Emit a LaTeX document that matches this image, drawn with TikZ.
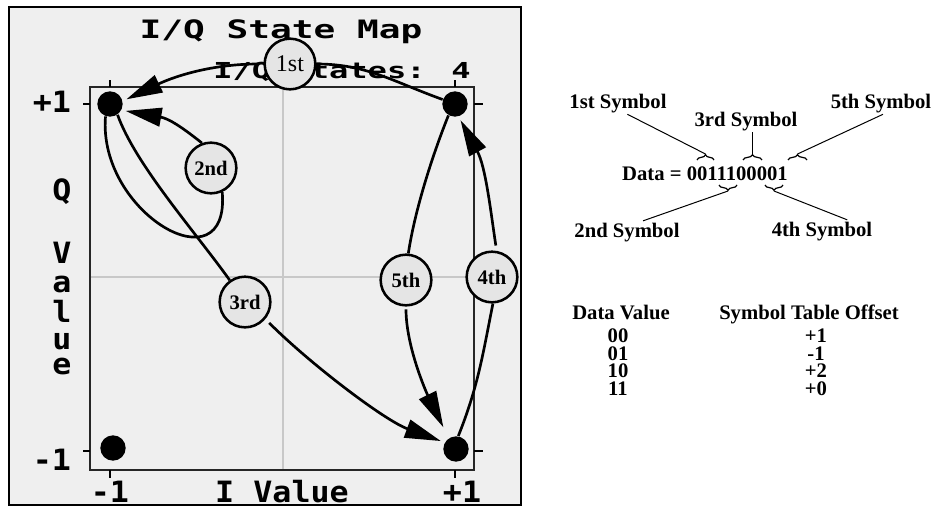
\documentclass[tikz,border=0pt]{standalone}
\usepackage{fontspec}
\setmainfont{Liberation Serif}
\newfontfamily\pixfont{DejaVu Sans Mono}
\usetikzlibrary{arrows.meta,decorations.pathreplacing}

\definecolor{panelgray}{RGB}{239,239,239}
\definecolor{symgray}{RGB}{229,229,229}
\definecolor{gridgray}{RGB}{200,200,200}

\tikzset{every picture/.style={line width=0.75pt}}
\tikzset{
state/.style={circle, fill=black, inner sep=0pt, minimum size=19pt},
symb/.style={circle, draw, line width=1.9pt, fill=symgray, inner sep=0pt, minimum size=38pt, font=\fontsize{15.5}{18}\selectfont\bfseries},
flow/.style={line width=2pt, -{Triangle[length=27pt,width=14pt]}, shorten >=3pt},
pix/.style={font=\fontsize{22}{24}\pixfont\bfseries, inner sep=0pt, anchor=base, xscale=1.08},
note/.style={font=\fontsize{15.5}{18}\selectfont\bfseries, inner sep=1pt, anchor=base},
brc/.style={decorate, decoration={brace, amplitude=4pt}, line width=0.9pt}}

\begin{document}
\begin{tikzpicture}[x=0.75pt,y=0.75pt,yscale=-1,xscale=1]
\useasboundingbox (0,0) rectangle (936,508);

%Panel and plot box
\draw [line width=1.5pt, fill=panelgray] (9,7) rectangle (521,505);
\draw [gridgray, line width=1.5pt] (283,87) -- (283,470) (90,277) -- (474,277);
\draw [black!85, line width=1.5pt] (90,87) rectangle (474,470);
\foreach \t in {110,455} {
  \draw [line width=1.5pt] (\t,80) -- (\t,87) (\t,470) -- (\t,478);
}
\foreach \t in {104,451} {
  \draw [line width=1.5pt] (83,\t) -- (90,\t) (474,\t) -- (483,\t);
}

% Screen texts
\node [pix, font=\fontsize{19}{20}\pixfont\bfseries, xscale=1.32] (title) at (281,38) {I/Q State Map};
\node [pix, font=\fontsize{16.5}{18}\pixfont\bfseries, xscale=1.35] (states) at (342,78) {I/Q States: 4};
\node [pix] (qtop) at (52,112) {+1};
\node [pix] (qbot) at (52,470) {-1};
\node [pix] (ileft) at (110,502) {-1};
\node [pix] (iright) at (462,502) {+1};
\node [pix] (ilabel) at (282,502) {I Value};
\foreach \ch/\y [count=\i] in {Q/200, V/263, a/292, l/322, u/349, e/374}
  \node [pix] (q\i) at (62,\y) {\ch};

% States
\node [state] (mp) at (110,104) {};
\node [state] (pp) at (455,104) {};
\node [state] (mm) at (113,448) {};
\node [state] (pm) at (456,449) {};

% Symbols
\node [symb, font=\fontsize{18}{20}\selectfont] (c1) at (290,64) {1st};
\node [symb] (c2) at (211,168) {2nd};
\node [symb] (c3) at (245,302) {3rd};
\node [symb] (c4) at (492,277) {4th};
\node [symb] (c5) at (406,280) {5th};

% Transitions
\draw [flow, shorten <=4pt] (pp.160) .. controls +(-50,-18) and +(50,0) .. (c1.east) (c1.west) .. controls +(-55,0) and +(48,-23) .. (mp.13);
\draw [flow] (mp.-110) .. controls +(-8,97) and +(8,97) .. (c2.-65) (c2.110) .. controls +(-25,-20) and +(45,8) .. (mp.-28);
\draw [flow, shorten <=4pt] (mp.-55) .. controls +(18,50) and +(-35,-49) .. (c3.125) (c3.-40) .. controls +(45,45) and +(-60,-22) .. (pm.150);
\draw [flow, shorten <=4pt] (pm.80) .. controls +(20,-50) and +(-10,50) .. (c4.-88) (c4.80) .. controls +(-6,-40) and +(27,50) .. (pp.-74);
\draw [flow, shorten <=2pt, shorten >=9pt] (pp.-120) .. controls +(-18,45) and +(6,-40) .. (c5.85) (c5.-90) .. controls +(0,40) and +(-22,-45) .. (pm.124);

% Data word
\node [note] (data) at (705,180) {Data = 0011100001};
\node [note] (s1) at (618,108) {1st Symbol};
\node [note] (s3) at (746,126) {3rd Symbol};
\node [note] (s5) at (881,108) {5th Symbol};
\node [note] (s2) at (627,237) {2nd Symbol};
\node [note] (s4) at (822,236) {4th Symbol};
\foreach \n/\a/\b in {1/697/714, 3/743/762, 5/788/807} {
  \draw [brc] (\a,160) -- (\b,160);
  \coordinate (b\n) at ({(\a+\b)/2},154);
}
\foreach \n/\a/\b in {2/719/737, 4/765/783} {
  \draw [brc, decoration={mirror}] (\a,185) -- (\b,185);
  \coordinate (b\n) at ({(\a+\b)/2},191);
}
\draw (s1.-50) -- (b1);
\draw (s3.south -| b3) -- (b3);
\draw (s5.-80) -- (b5);
\draw (s2.35) -- (b2);
\draw (s4.24) -- (b4);

% Offset table
\node [note] (hval) at (621,319) {Data Value};
\node [note] (hoff) at (809,319) {Symbol Table Offset};
\foreach \v/\o/\y [count=\i] in {00/+1/342, 01/-1/360, 10/+2/377, 11/+0/395} {
  \node [note] (v\i) at (618,\y) {\v};
  \node [note] (o\i) at (816,\y) {\o};
}

\end{tikzpicture}
\end{document}
